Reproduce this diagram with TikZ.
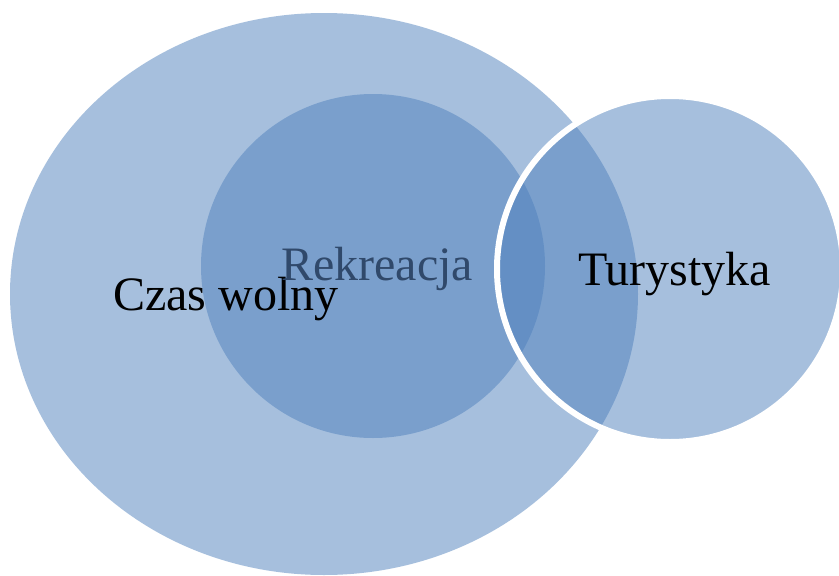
\documentclass[tikz,border=0pt]{standalone}
\usepackage{fontspec}
\setmainfont{Liberation Serif}
\definecolor{venn}{HTML}{4F81BD}
\definecolor{rektxt}{HTML}{30496B}
\tikzset{
  vennfill/.style={fill=venn, fill opacity=0.5, draw=none},
  lbl/.style={anchor=base west, inner sep=0pt, font=\fontsize{48}{48}\selectfont}
}
\begin{document}
\begin{tikzpicture}[x=1pt,y=-1pt]
\useasboundingbox (0,0) rectangle (839,576);
\clip (0,0) rectangle (839,576);
\fill[white] (0,0) rectangle (839,576);
\path[vennfill] (324,294) ellipse [x radius=314, y radius=281];
\path[vennfill] (373,266) circle [radius=172];
\path[vennfill] (670,269) circle [radius=171];
\draw[white, line width=6pt] (670,269) circle [radius=173];
\node[lbl, text=black] (czas) at (113,310) {Czas wolny};
\node[lbl, text=rektxt] (rek) at (281,280) {Rekreacja};
\node[lbl, text=black] (tur) at (578,285) {Turystyka};
\end{tikzpicture}
\end{document}
